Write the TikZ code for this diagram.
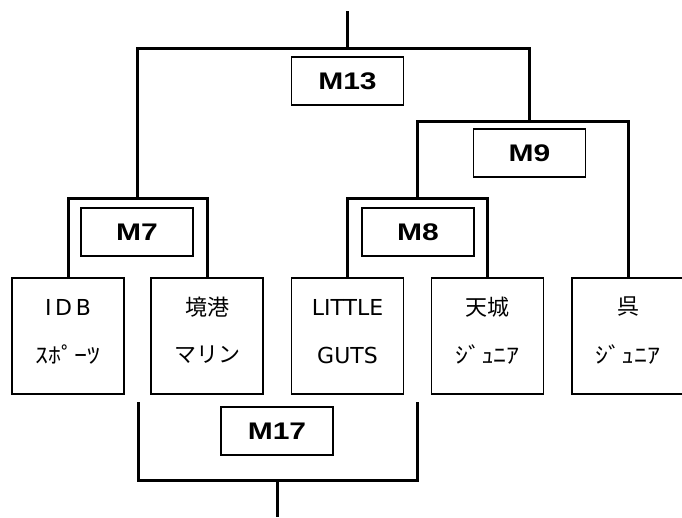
\documentclass[tikz,border=0pt]{standalone}
\usepackage{fontspec}
\newfontfamily\jpfont{Noto Sans CJK JP}
\newfontfamily\hwfont[FakeStretch=1.18]{Noto Sans CJK JP}
\newfontfamily\latfont{DejaVu Sans}
\newfontfamily\mfont[FakeStretch=1.25]{Liberation Sans}
\begin{document}
\begin{tikzpicture}[x=1pt,y=-1pt,
  team/.style={draw, line width=1.5pt, minimum width=112pt, minimum height=116pt, inner sep=0pt},
  mbox/.style={draw, line width=1.2pt, minimum width=112pt, minimum height=48pt, inner sep=0pt,
    font=\mfont\bfseries\fontsize{24}{24}\selectfont},
  ttext/.style={font=\jpfont\fontsize{22}{22}\selectfont, inner sep=0pt},
  ltext/.style={font=\latfont\fontsize{22}{22}\selectfont, inner sep=0pt},
  htext/.style={font=\hwfont\fontsize{22}{22}\selectfont, inner sep=0pt},
  br/.style={line width=3pt}]
\useasboundingbox (0,0) rectangle (682,517);
\clip (0,0) rectangle (682,517);
\fill[white] (0,0) rectangle (682,517);

% team boxes
\node[team] (t1) at (68,336) {};
\node[team] (t2) at (207,336) {};
\node[team] (t3) at (347.5,336) {};
\node[team] (t4) at (487.5,336) {};
\node[team] (t5) at (628,336) {};

\node[ltext] (t1a) at (68,307) {I\,D\,B};
\node[htext] (t1b) at (68,355) {ｽﾎﾟｰﾂ};
\node[ttext] (t2a) at (207,307) {境港};
\node[ttext] (t2b) at (207,355) {マリン};
\node[ltext] (t3a) at (347.5,307) {LITTLE};
\node[ltext] (t3b) at (347.5,355) {GUTS};
\node[ttext] (t4a) at (487.5,307) {天城};
\node[htext] (t4b) at (487.5,355) {ｼﾞｭﾆｱ};
\node[ttext] (t5a) at (628,307) {呉};
\node[htext] (t5b) at (628,355) {ｼﾞｭﾆｱ};

% match boxes
\node[mbox] (m13) at (347.5,81) {M13};
\node[mbox] (m9) at (529.5,153) {M9};
\node[mbox] (m7) at (137,232) {M7};
\node[mbox] (m8) at (418,232) {M8};
\node[mbox] (m17) at (277,431) {M17};

% bracket lines
\coordinate (top) at (347,11);
\coordinate (j13) at (347,48);
\coordinate (j7) at (137.5,199);
\coordinate (j8) at (417.5,199);
\coordinate (j9) at (529,121);
\coordinate (l17) at (138,402);
\coordinate (r17) at (417,402);
\coordinate (j17) at (277.5,480);
\coordinate (bot) at (277.5,517);

\draw[br] (t1.north) -- ++(0,-79) -| (t2.north);
\draw[br] (t3.north) -- ++(0,-79) -| (t4.north);
\draw[br] (t5.north) |- (j8 |- j9) -- (j8);
\draw[br] (j7) |- (j13) -| (j9);
\draw[br] (j13) -- (top);
\draw[br] (l17) -- (l17 |- j17) -- (r17 |- j17) -- (r17);
\draw[br] (j17) -- (bot);
\end{tikzpicture}
\end{document}
